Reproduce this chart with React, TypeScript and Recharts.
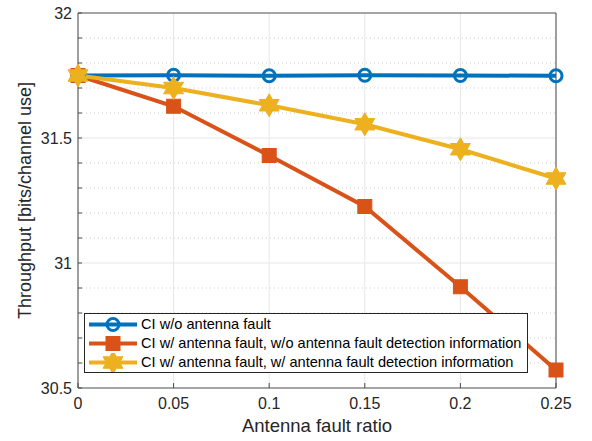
import React from 'react';
import { LineChart, Line, XAxis, YAxis, CartesianGrid, ReferenceLine, Legend } from 'recharts';

const faultRatios = [0, 0.05, 0.1, 0.15, 0.2, 0.25];
const ciNoFault = [31.75, 31.751, 31.749, 31.751, 31.75, 31.749];
const ciFaultNoInfo = [31.75, 31.627, 31.43, 31.226, 30.905, 30.572];
const ciFaultInfo = [31.75, 31.7, 31.631, 31.555, 31.455, 31.338];

const xTicks = [0, 0.05, 0.1, 0.15, 0.2, 0.25];
const xTickLabels = ['0', '0.05', '0.1', '0.15', '0.2', '0.25'];
const yMajor = [30.5, 31, 31.5, 32];
const yMajorLabels = ['30.5', '31', '31.5', '32'];
const yAll = [30.5, 30.6, 30.7, 30.8, 30.9, 31, 31.1, 31.2, 31.3, 31.4, 31.5, 31.6, 31.7, 31.8, 31.9, 32];
const yMinor = [30.6, 30.7, 30.8, 30.9, 31.1, 31.2, 31.3, 31.4, 31.6, 31.7, 31.8, 31.9];
const yInnerMajor = [31, 31.5];
const xMax = 0.25;
const yMax = 32;

const seriesKeys = ['noFault', 'faultNoInfo', 'faultInfo'];
const seriesNames = [
  'CI w/o antenna fault',
  'CI w/ antenna fault, w/o antenna fault detection information',
  'CI w/ antenna fault, w/ antenna fault detection information',
];
const seriesColors = ['#0072BD', '#D95319', '#EDB120'];

const data = faultRatios.map((x, i) => ({
  x,
  noFault: ciNoFault[i],
  faultNoInfo: ciFaultNoInfo[i],
  faultInfo: ciFaultInfo[i],
}));

const FONT = '"Liberation Sans", Arial, Helvetica, sans-serif';
const AXIS = '#4a4a4a';
const TEXT = '#262626';

function hexagramPoints(cx: number, cy: number, R: number) {
  const r = R * 0.577;
  const pts: string[] = [];
  for (let k = 0; k < 12; k++) {
    const a = (-90 + k * 30) * Math.PI / 180;
    const rad = k % 2 === 0 ? R : r;
    pts.push(`${cx + rad * Math.cos(a)},${cy + rad * Math.sin(a)}`);
  }
  return pts.join(' ');
}

function Marker({ kind, cx, cy, color }: { kind: number; cx: number; cy: number; color: string }) {
  if (kind === 0) {
    return <circle cx={cx} cy={cy} r={6} fill="none" stroke={color} strokeWidth={3} />;
  }
  if (kind === 1) {
    return <rect x={cx - 7} y={cy - 7} width={14} height={14} fill={color} stroke={color} strokeWidth={1} />;
  }
  return <polygon points={hexagramPoints(cx, cy, 11.5)} fill={color} stroke={color} strokeWidth={1} strokeLinejoin="miter" />;
}

const makeDot = (kind: number) => (props: any) => {
  const { cx, cy, index } = props;
  if (cx == null || cy == null) return <g key={`d-${kind}-${index}`} />;
  return (
    <g key={`d-${kind}-${index}`}>
      <Marker kind={kind} cx={cx} cy={cy} color={seriesColors[kind]} />
    </g>
  );
};

const LegendBox = () => (
  <div
    style={{
      border: `1px solid ${TEXT}`,
      background: '#fff',
      width: 442,
      height: 57,
      paddingTop: 1,
      boxSizing: 'content-box',
      fontFamily: FONT,
      fontSize: 14.6,
      color: '#000',
    }}
  >
    {seriesNames.map((name, i) => (
      <div key={name} style={{ display: 'flex', alignItems: 'center', height: 19 }}>
        <svg width={56} height={19} style={{ flex: '0 0 56px' }}>
          <line x1={4} y1={9.5} x2={52} y2={9.5} stroke={seriesColors[i]} strokeWidth={4} />
          <Marker kind={i} cx={28} cy={9.5} color={seriesColors[i]} />
        </svg>
        <span style={{ whiteSpace: 'nowrap', lineHeight: '19px' }}>{name}</span>
      </div>
    ))}
  </div>
);

const YLabel = () => {
  const cy = 13 + 375 / 2;
  return (
    <text
      x={31}
      y={cy}
      transform={`rotate(-90, 31, ${cy})`}
      textAnchor="middle"
      fontFamily={FONT}
      fontSize={18}
      fill={TEXT}
    >
      Throughput [bits/channel use]
    </text>
  );
};

export default function App() {
  return (
    <div style={{ position: 'absolute', left: 0, top: 0, width: 592, height: 441, background: '#fff' }}>
      <LineChart
        width={592}
        height={441}
        data={data}
        margin={{ top: 13, right: 36, bottom: 23, left: 18 }}
        style={{ fontFamily: FONT }}
      >
        <CartesianGrid horizontal={false} vertical stroke="#e6e6e6" strokeWidth={1} />
        {yInnerMajor.map((v) => (
          <ReferenceLine key={`maj-${v}`} y={v} stroke="#e6e6e6" strokeWidth={1} />
        ))}
        {yMinor.map((v) => (
          <ReferenceLine key={`min-${v}`} y={v} stroke="#cfcfcf" strokeWidth={1} strokeDasharray="1 3" />
        ))}
        <ReferenceLine y={yMax} stroke={AXIS} strokeWidth={1} ifOverflow="visible" />
        <ReferenceLine x={xMax} stroke={AXIS} strokeWidth={1} ifOverflow="visible" />
        <XAxis
          dataKey="x"
          type="number"
          domain={[0, 0.25]}
          ticks={xTicks}
          tickFormatter={(v: number) => xTickLabels[xTicks.indexOf(v)] ?? ''}
          height={30}
          tickSize={-5}
          tickMargin={15}
          axisLine={{ stroke: AXIS }}
          tickLine={{ stroke: AXIS }}
          tick={{ fill: TEXT, fontSize: 16, fontFamily: FONT }}
          interval={0}
          label={{ value: 'Antenna fault ratio', position: 'bottom', offset: 1, fontSize: 18.5, fill: TEXT, fontFamily: FONT }}
        />
        <YAxis
          type="number"
          domain={[30.5, 32]}
          ticks={yAll}
          width={60}
          tickSize={-4}
          tickMargin={10}
          interval={0}
          axisLine={{ stroke: AXIS }}
          tickLine={{ stroke: AXIS }}
          tick={{ fill: TEXT, fontSize: 16, fontFamily: FONT }}
          tickFormatter={(v: number) => {
            const idx = yMajor.findIndex((m) => Math.abs(m - v) < 1e-9);
            return idx >= 0 ? yMajorLabels[idx] : '';
          }}
          label={<YLabel />}
        />
        {seriesKeys.map((k, i) => (
          <Line
            key={k}
            type="linear"
            dataKey={k}
            name={seriesNames[i]}
            stroke={seriesColors[i]}
            strokeWidth={4}
            dot={makeDot(i)}
            activeDot={false}
            isAnimationActive={false}
          />
        ))}
        <Legend
          layout="horizontal"
          verticalAlign="middle"
          align="center"
          content={() => <LegendBox />}
          wrapperStyle={{ left: 84, top: 313, width: 444, height: 59, position: 'absolute' }}
        />
      </LineChart>
    </div>
  );
}
